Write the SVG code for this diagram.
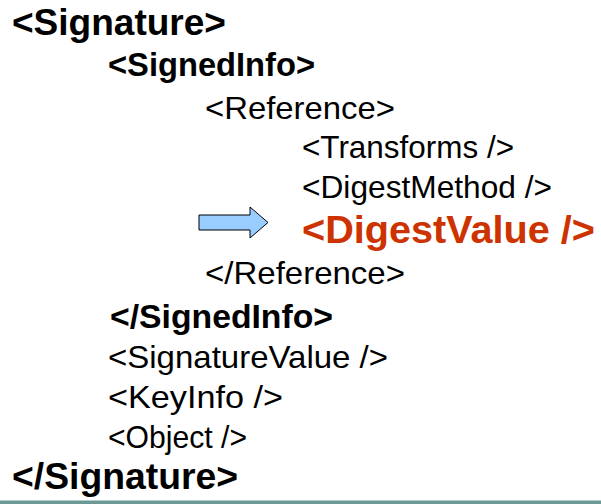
<svg xmlns="http://www.w3.org/2000/svg" width="601" height="504" viewBox="0 0 601 504">
  <style>
    text { font-family: "Liberation Sans", Arial, sans-serif; fill: #000; }
    .b { font-weight: bold; }
    .big { font-size: 36px; }
    .mid { font-size: 33px; }
    .reg { font-size: 32px; }
    .hl { font-size: 39px; font-weight: bold; fill: #cc3300; }
  </style>
  <rect width="601" height="504" fill="#ffffff"/>

  <g id="xml-lines">
    <text id="sig-open" class="b big" x="12" y="35" textLength="214" lengthAdjust="spacingAndGlyphs">&lt;Signature&gt;</text>
    <text id="signedinfo-open" class="b mid" x="108" y="76" textLength="207" lengthAdjust="spacingAndGlyphs">&lt;SignedInfo&gt;</text>
    <text id="reference-open" class="reg" x="205" y="119" textLength="190" lengthAdjust="spacingAndGlyphs">&lt;Reference&gt;</text>
    <text id="transforms" class="reg" x="302" y="158" textLength="212" lengthAdjust="spacingAndGlyphs">&lt;Transforms /&gt;</text>
    <text id="digestmethod" class="reg" x="302" y="198" textLength="250" lengthAdjust="spacingAndGlyphs">&lt;DigestMethod /&gt;</text>
    <text id="digestvalue" class="hl" x="302" y="243" textLength="293" lengthAdjust="spacingAndGlyphs">&lt;DigestValue /&gt;</text>
    <text id="reference-close" class="reg" x="205" y="284" textLength="200" lengthAdjust="spacingAndGlyphs">&lt;/Reference&gt;</text>
    <text id="signedinfo-close" class="b mid" x="110" y="328" textLength="223" lengthAdjust="spacingAndGlyphs">&lt;/SignedInfo&gt;</text>
    <text id="signaturevalue" class="reg" x="108" y="368" textLength="280" lengthAdjust="spacingAndGlyphs">&lt;SignatureValue /&gt;</text>
    <text id="keyinfo" class="reg" x="108" y="408" textLength="175" lengthAdjust="spacingAndGlyphs">&lt;KeyInfo /&gt;</text>
    <text id="object" class="reg" x="108" y="448" textLength="139" lengthAdjust="spacingAndGlyphs">&lt;Object /&gt;</text>
    <text id="sig-close" class="b big" x="12" y="489" textLength="226" lengthAdjust="spacingAndGlyphs">&lt;/Signature&gt;</text>
  </g>

  <g id="pointer">
    <polygon points="199,215 250,215 250,207 268,222.5 250,238 250,230 199,230" fill="#99ccff" stroke="#000" stroke-width="1"/>
  </g>

  <!-- footer rule -->
  <rect x="0" y="500" width="601" height="1" fill="#b3cbc8"/>
  <rect x="0" y="501" width="601" height="3" fill="#6a9993"/>
</svg>
